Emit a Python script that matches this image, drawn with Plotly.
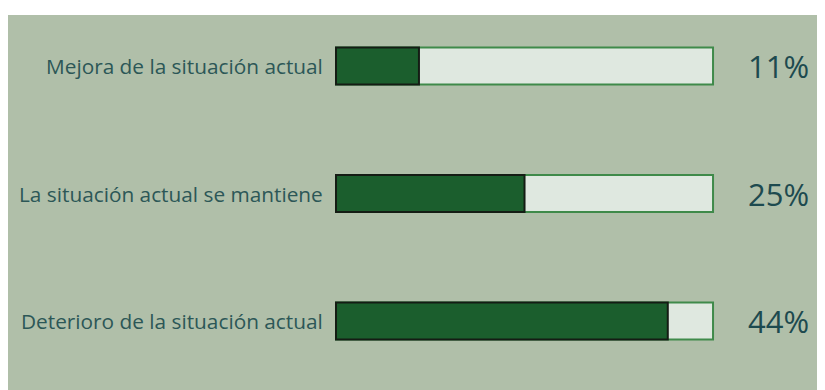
import plotly.graph_objects as go

categories = ["Mejora de la situación actual", "La situación actual se mantiene", "Deterioro de la situación actual"]
values = [11, 25, 44]
scale_max = 50
pct_labels = [f"{v}%" for v in values]

# positions: first category at top
ypos = [len(categories) - 1 - i for i in range(len(categories))]

BG = "#b0bfa9"
DARK = "#1b5e2d"
LIGHT = "#dfe8e0"
TXT = "#2c5757"
PCT = "#1d4a4f"

fig = go.Figure()
fig.add_trace(go.Bar(
    x=[scale_max] * len(categories), y=ypos, orientation="h", width=0.29,
    marker=dict(color=LIGHT, line=dict(color="#3f8a4a", width=2)),
    hoverinfo="skip", showlegend=False,
))
fig.add_trace(go.Bar(
    x=values, y=ypos, orientation="h", width=0.29,
    marker=dict(color=DARK, line=dict(color="#141c14", width=2)),
    showlegend=False,
))

for cat, yp, lab in zip(categories, ypos, pct_labels):
    fig.add_annotation(x=-1.5, y=yp, text=cat, showarrow=False, xanchor="right", yanchor="middle",
                       font=dict(family="Open Sans", size=20.8, color=TXT))
    fig.add_annotation(x=scale_max + 4.4, y=yp, text=lab, showarrow=False, xanchor="left", yanchor="middle",
                       font=dict(family="Open Sans", size=31, color=PCT))

fig.update_layout(
    width=817, height=382,
    margin=dict(l=0, r=0, t=7, b=0),
    paper_bgcolor="white", plot_bgcolor=BG,
    barmode="overlay",
    xaxis=dict(range=[-43.5, 64.85], visible=False, fixedrange=True),
    yaxis=dict(range=[-0.541, 2.4], visible=False, fixedrange=True),
)

fig.write_html("out.html")
